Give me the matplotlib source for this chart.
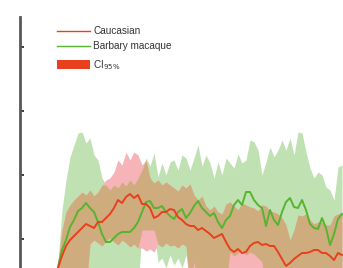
import numpy as np
import matplotlib
matplotlib.use("Agg")
import matplotlib.pyplot as plt
from matplotlib.lines import Line2D
from matplotlib.patches import Patch

plt.rcParams['font.family'] = ['Liberation Sans', 'DejaVu Sans']

# position index along the x axis
pos = np.arange(72)

barbary = [36,53,63,76,83,92,95,100,95,91,
           81,69,61,61,65,69,71,71,71,75,
           81,91,101,102,95,95,97,91,87,84,
           91,94,85,90,97,102,95,91,87,90,
           81,75,83,87,98,103,98,111,111,103,
           98,95,77,93,83,78,91,101,105,96,
           95,103,93,79,75,74,85,75,58,69,
           84,89]

caucasian = [35,47,57,63,67,71,75,79,77,75,
             81,81,85,89,95,103,100,106,109,105,
             108,99,99,95,85,87,91,91,94,93,
             86,83,79,77,77,73,75,72,69,65,
             67,69,61,54,51,54,50,51,57,60,
             61,58,59,57,57,51,44,37,40,44,
             47,50,50,51,53,53,50,50,47,43,
             50,48]

barbary_hi = [41,93,123,146,158,170,171,160,165,148,
              143,125,118,113,118,115,121,117,123,118,
              125,133,145,137,150,126,140,128,141,143,
              133,148,145,133,145,158,137,148,140,125,
              141,128,145,140,135,149,140,143,163,161,
              153,128,141,156,146,153,163,153,165,148,
              171,170,151,135,125,131,128,116,113,103,
              136,138]

barbary_lo = [13,13,13,13,13,13,13,13,13,13,
              13,13,13,13,13,13,13,13,13,13,
              13,73,73,73,73,41,45,35,48,38,
              45,35,48,18,41,18,18,18,18,18,
              18,18,18,51,47,50,53,48,51,49,
              45,41,13,13,13,13,13,13,13,13,
              13,13,13,13,13,13,13,13,13,13,
              13,13]

caucasian_hi = [41,73,91,98,103,107,111,108,113,107,
                111,118,123,125,131,143,138,151,143,151,
                148,138,143,125,120,123,118,121,118,115,
                112,118,115,119,108,103,107,97,93,97,
                91,89,99,101,97,93,100,98,96,95,
                92,98,97,92,91,89,85,78,63,73,
                88,87,89,83,79,81,81,78,78,87,
                89,91]

caucasian_lo = [13,13,13,13,13,13,13,13,59,63,
                60,57,62,65,61,58,63,60,56,59,
                55,55,52,54,51,59,56,60,57,58,
                55,59,57,13,13,13,13,13,13,13,
                13,13,13,13,13,13,13,13,13,13,
                13,13,13,13,13,13,13,13,13,13,
                13,13,13,13,13,13,13,13,13,13,
                13,13]

yticks = [64, 128, 192, 256]
labels = ['Caucasian', 'Barbary macaque', 'CI$_{95\\%}$']

col_red = '#e8401c'
col_green = '#55b52e'
col_pink = '#f6b4b8'
col_lgreen = '#c0e2b3'
col_tan = '#cfac7e'

fig = plt.figure(figsize=(3.43, 2.68), dpi=100)
ax = fig.add_axes([20/343, 0.0, 1 - 20/343, 1 - 17/268])

x = pos
bh, bl = np.array(barbary_hi), np.array(barbary_lo)
ch, cl = np.array(caucasian_hi), np.array(caucasian_lo)
ax.fill_between(x, bl, bh, color=col_lgreen, lw=0)
ax.fill_between(x, cl, ch, color=col_pink, lw=0)
top = np.minimum(bh, ch)
bot = np.maximum(bl, cl)
ax.fill_between(x, bot, top, where=top > bot, interpolate=True, color=col_tan, lw=0)
ax.plot(x, barbary, color=col_green, lw=1.4)
ax.plot(x, caucasian, color=col_red, lw=1.4)

ax.set_xlim(-9.5, 71.25)
ax.set_ylim(35, 286)
ax.set_yticks(yticks)
ax.set_yticklabels([])
ax.set_xticks([])
for s in ['top', 'right', 'bottom']:
    ax.spines[s].set_visible(False)
ax.spines['left'].set_color('#585858')
ax.spines['left'].set_linewidth(2.0)
ax.tick_params(axis='y', direction='in', length=2.8, width=1.3, color='#303030')

h_lines = [Line2D([], [], color=col_red, lw=1.0),
           Line2D([], [], color=col_green, lw=1.0)]
leg1 = ax.legend(h_lines, labels[:2], loc='upper left',
                 bbox_to_anchor=(57/343, 1 - 26/268), bbox_transform=fig.transFigure,
                 frameon=False, fontsize=7.2, borderpad=0, borderaxespad=0,
                 handlelength=3.3, handletextpad=0.3, labelspacing=0.5)
for t in leg1.get_texts():
    t.set_color('#333333')
ax.add_artist(leg1)

leg2 = ax.legend([Patch(facecolor=col_red, edgecolor='none')], labels[2:], loc='upper left',
                 bbox_to_anchor=(57/343, 1 - 58/268), bbox_transform=fig.transFigure,
                 frameon=False, fontsize=7.2, borderpad=0, borderaxespad=0,
                 handlelength=3.3, handleheight=1.05, handletextpad=0.3)
for t in leg2.get_texts():
    t.set_color('#333333')

fig.savefig('out.png', dpi=100)
